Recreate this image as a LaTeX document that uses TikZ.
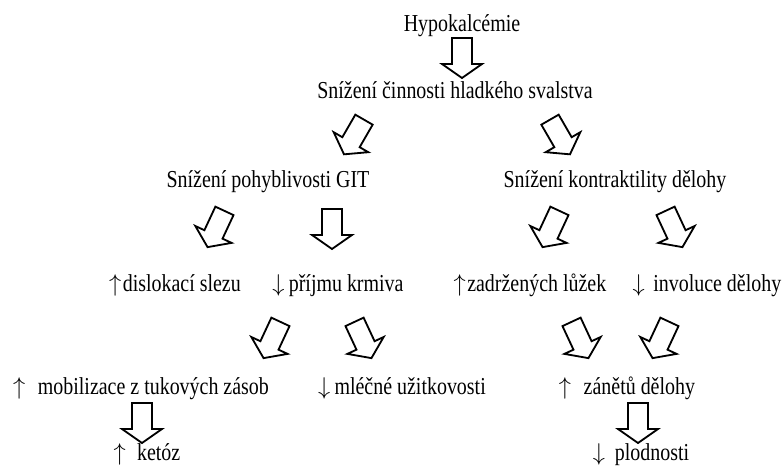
\documentclass[tikz,border=0pt]{standalone}
\usepackage{fontspec}
\setmainfont{Liberation Serif}[FakeStretch=0.82]

\begin{document}
\begin{tikzpicture}[x=0.025cm,y=-0.025cm,
  txt/.style={anchor=base,inner sep=0pt,font=\fontsize{17.3}{20}\selectfont},
  barrow/.pic={
    \draw[line width=1.3pt,line join=miter] (-10,-20) -- (10,-20) -- (10,6) -- (20,6)
      -- (0,20) -- (-20,6) -- (-10,6) -- cycle;
    \coordinate (-tip) at (0,20);
  }]
\useasboundingbox (0,0) rectangle (784,468);

\node[txt] (hypo) at (462,31) {Hypokalcémie};
\node[txt] (hladke) at (455,98) {Snížení činnosti hladkého svalstva};
\node[txt] (git) at (268,187) {Snížení pohyblivosti GIT};
\node[txt] (deloha) at (615,187) {Snížení kontraktility dělohy};

\node[txt] (slez) at (175,291) {$\uparrow$\hspace{1pt}dislokací slezu};
\node[txt] (krmivo) at (338,291) {$\downarrow$\hspace{3pt}příjmu krmiva};
\node[txt] (luzka) at (530,291) {$\uparrow$\hspace{1pt}zadržených lůžek};
\node[txt] (involuce) at (707,291) {$\downarrow$\hspace{6pt}involuce dělohy};

\node[txt] (tuky) at (141,394) {$\uparrow$\hspace{9pt}mobilizace z tukových zásob};
\node[txt] (mleko) at (402,394) {$\downarrow$\hspace{3pt}mléčné užitkovosti};
\node[txt] (zanet) at (627,394) {$\uparrow$\hspace{9pt}zánětů dělohy};

\node[txt] (ketoza) at (147,460) {$\uparrow$\hspace{8pt}ketóz};
\node[txt] (plodnost) at (641,460) {$\downarrow$\hspace{7pt}plodnosti};

\pic (a1) at (462,58) {barrow};
\pic (a2) [rotate=-30] at (354,137) {barrow};
\pic (a3) [rotate=30] at (560,137) {barrow};
\pic (a4) [rotate=-25] at (216,229) {barrow};
\pic (a5) at (332,229) {barrow};
\pic (a6) [rotate=-25] at (551,229) {barrow};
\pic (a7) [rotate=25] at (674,229) {barrow};
\pic (a8) [rotate=-25] at (272,340) {barrow};
\pic (a9) [rotate=25] at (363,340) {barrow};
\pic (a10) [rotate=25] at (580,340) {barrow};
\pic (a11) [rotate=-25] at (661,340) {barrow};
\pic (a12) at (142,423) {barrow};
\pic (a13) at (638,423) {barrow};

\end{tikzpicture}
\end{document}
